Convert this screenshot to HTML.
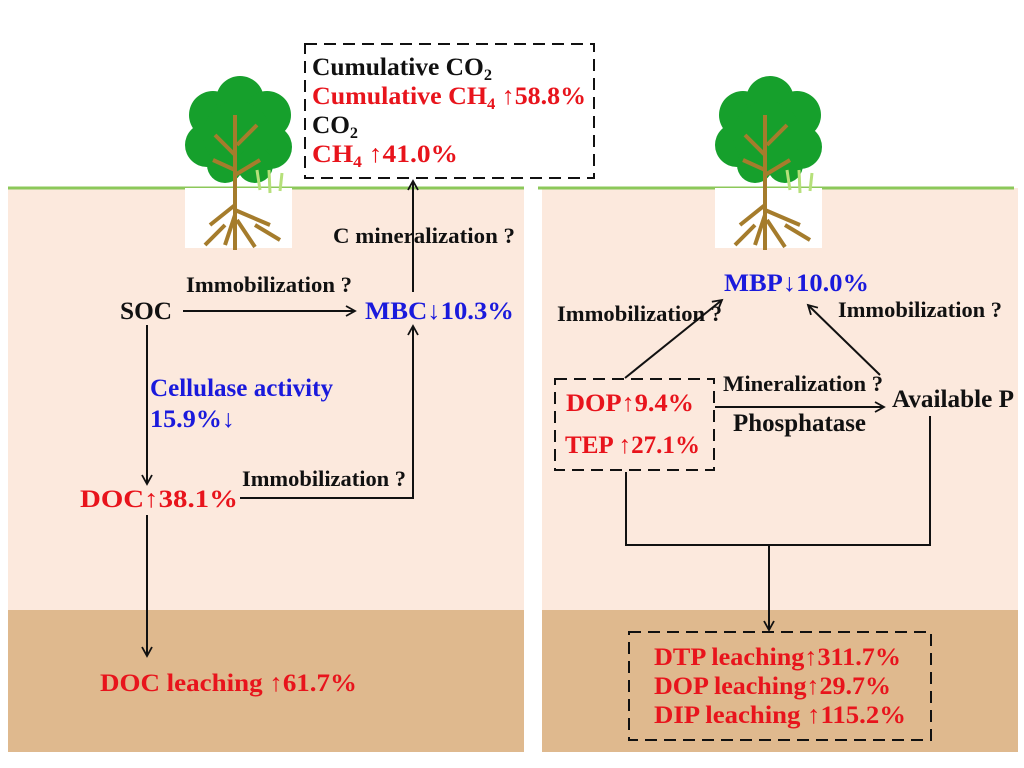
<!DOCTYPE html>
<html><head><meta charset="utf-8"><style>
html,body{margin:0;padding:0;background:#fff;width:1024px;height:768px;overflow:hidden}
text{font-family:"Liberation Serif",serif;font-weight:bold;font-size:25px}
text.s{font-size:22px}
.r{fill:#e8141c}.b{fill:#1a1adc}.k{fill:#111}
</style></head><body>
<svg width="1024" height="768" viewBox="0 0 1024 768" xmlns="http://www.w3.org/2000/svg">
<defs><marker id="a" markerWidth="12" markerHeight="12" refX="10" refY="6" orient="auto" markerUnits="userSpaceOnUse"><path d="M1,1 L10,6 L1,11" fill="none" stroke="#111" stroke-width="1.8"/></marker>
<g id="tree">
<rect x="0" y="113" width="107" height="60" fill="#fff"/>
<g fill="#16a02c"><circle cx="28" cy="40" r="24"/><circle cx="55" cy="25" r="24"/><circle cx="82" cy="40" r="24"/><circle cx="22" cy="70" r="22"/><circle cx="85" cy="72" r="22"/><circle cx="52" cy="60" r="34"/><circle cx="40" cy="90" r="18"/><circle cx="70" cy="90" r="18"/></g>
<path d="M50,40 L50,175 M50,80 L30,60 M52,70 L72,50 M50,100 L75,85 M50,95 L28,85 M50,130 L25,150 M50,135 L85,150 M50,140 L40,170 M52,145 L70,172 M40,150 L20,170 M70,150 L95,165" stroke="#a57c2c" stroke-width="4" fill="none"/>
<path d="M75,115 L72,95 M85,118 L84,95 M95,116 L97,98" stroke="#b6e07a" stroke-width="3" fill="none"/>
</g></defs>
<rect x="8" y="188" width="516" height="422" fill="#fce9dd"/>
<rect x="8" y="610" width="516" height="142" fill="#dfb98e"/>
<rect x="542" y="188" width="476" height="422" fill="#fce9dd"/>
<rect x="542" y="610" width="476" height="142" fill="#dfb98e"/>
<line x1="8" y1="188" x2="524" y2="188" stroke="#8cc85a" stroke-width="3"/>
<line x1="538" y1="188" x2="1014" y2="188" stroke="#8cc85a" stroke-width="3"/>
<use href="#tree" x="185" y="75"/>
<use href="#tree" x="715" y="75"/>
<g fill="none" stroke="#111" stroke-width="2">
<rect x="305" y="44" width="289" height="134" stroke-dasharray="12,7"/>
<line x1="413" y1="292" x2="413" y2="181" marker-end="url(#a)"/>
<line x1="183" y1="311" x2="355" y2="311" marker-end="url(#a)"/>
<line x1="147" y1="325" x2="147" y2="484" marker-end="url(#a)"/>
<polyline points="240,498 413,498 413,326" marker-end="url(#a)"/>
<line x1="147" y1="515" x2="147" y2="656" marker-end="url(#a)"/>
<line x1="625" y1="378" x2="722" y2="300" marker-end="url(#a)"/>
<line x1="880" y1="375" x2="808" y2="305" marker-end="url(#a)"/>
<rect x="555" y="379" width="159" height="91" stroke-dasharray="12,7"/>
<line x1="715" y1="407" x2="884" y2="407" marker-end="url(#a)"/>
<polyline points="626,472 626,545 930,545 930,416"/>
<line x1="769" y1="545" x2="769" y2="630" marker-end="url(#a)"/>
<rect x="629" y="632" width="302" height="108" stroke-dasharray="12,7"/>
</g>
<text x="312" y="75" class="k" textLength="180" lengthAdjust="spacingAndGlyphs">Cumulative CO<tspan font-size="16" dy="5">2</tspan></text>
<text x="312" y="104" class="r" textLength="274" lengthAdjust="spacingAndGlyphs">Cumulative CH<tspan font-size="16" dy="5">4</tspan><tspan dy="-5"> ↑58.8%</tspan></text>
<text x="312" y="133" class="k" textLength="46" lengthAdjust="spacingAndGlyphs">CO<tspan font-size="16" dy="5">2</tspan></text>
<text x="312" y="162" class="r" textLength="146" lengthAdjust="spacingAndGlyphs">CH<tspan font-size="16" dy="5">4</tspan><tspan dy="-5"> ↑41.0%</tspan></text>
<text x="333" y="243" class="k s" textLength="182" lengthAdjust="spacingAndGlyphs">C mineralization ?</text>
<text x="186" y="292" class="k s" textLength="166" lengthAdjust="spacingAndGlyphs">Immobilization ?</text>
<text x="120" y="319" class="k" textLength="52" lengthAdjust="spacingAndGlyphs">SOC</text>
<text x="365" y="319" class="b" textLength="149" lengthAdjust="spacingAndGlyphs">MBC↓10.3%</text>
<text x="150" y="396" class="b" textLength="183" lengthAdjust="spacingAndGlyphs">Cellulase activity</text>
<text x="150" y="427" class="b" textLength="85" lengthAdjust="spacingAndGlyphs">15.9%↓</text>
<text x="80" y="507" class="r" textLength="158" lengthAdjust="spacingAndGlyphs">DOC↑38.1%</text>
<text x="242" y="486" class="k s" textLength="164" lengthAdjust="spacingAndGlyphs">Immobilization ?</text>
<text x="100" y="691" class="r" textLength="257" lengthAdjust="spacingAndGlyphs">DOC  leaching ↑61.7%</text>
<text x="724" y="291" class="b" textLength="145" lengthAdjust="spacingAndGlyphs">MBP↓10.0%</text>
<text x="557" y="321" class="k s" textLength="165" lengthAdjust="spacingAndGlyphs">Immobilization ?</text>
<text x="838" y="317" class="k s" textLength="164" lengthAdjust="spacingAndGlyphs">Immobilization ?</text>
<text x="566" y="411" class="r" textLength="128" lengthAdjust="spacingAndGlyphs">DOP↑9.4%</text>
<text x="565" y="453" class="r" textLength="135" lengthAdjust="spacingAndGlyphs">TEP ↑27.1%</text>
<text x="723" y="391" class="k s" textLength="160" lengthAdjust="spacingAndGlyphs">Mineralization ?</text>
<text x="733" y="431" class="k" textLength="133" lengthAdjust="spacingAndGlyphs">Phosphatase</text>
<text x="892" y="407" class="k" textLength="122" lengthAdjust="spacingAndGlyphs">Available P</text>
<text x="654" y="665" class="r" textLength="247" lengthAdjust="spacingAndGlyphs">DTP leaching↑311.7%</text>
<text x="654" y="694" class="r" textLength="237" lengthAdjust="spacingAndGlyphs">DOP leaching↑29.7%</text>
<text x="654" y="723" class="r" textLength="252" lengthAdjust="spacingAndGlyphs">DIP leaching  ↑115.2%</text>
</svg>
</body></html>
